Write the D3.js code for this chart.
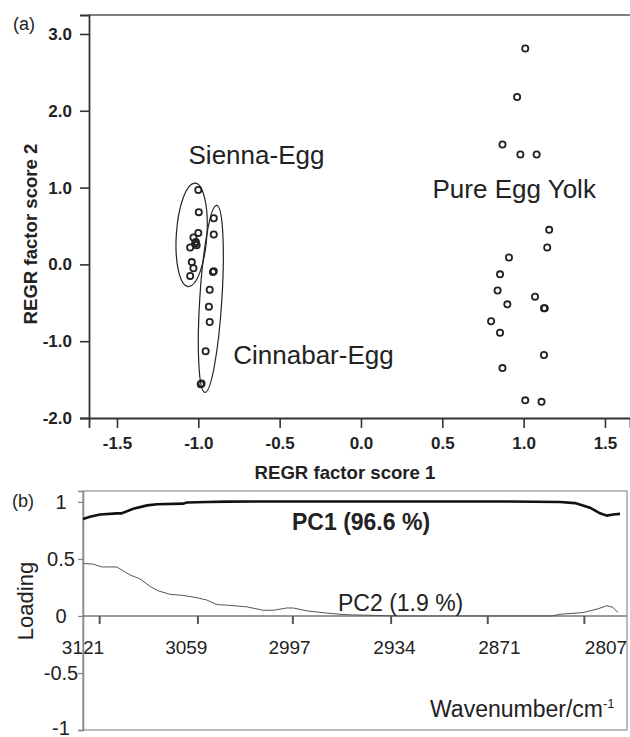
<!DOCTYPE html>
<html>
<head>
<meta charset="utf-8">
<script src="https://cdn.jsdelivr.net/npm/d3@7"></script>
<style>
  body { margin: 0; background: #fff; }
  text { font-family: "Liberation Sans", Arial, sans-serif; fill: #222; }
</style>
</head>
<body>
<div id="vis"></div>
<script>
// (a) score plot data: [factor score 1, factor score 2]
var siennaPts = [[-1.0, 0.97], [-0.997, 0.68], [-1.0, 0.41], [-1.03, 0.35], [-1.015, 0.29],
  [-1.01, 0.25], [-1.05, 0.22], [-1.02, 0.27], [-1.04, 0.03], [-1.03, -0.05], [-1.05, -0.15]];
var cinnabarPts = [[-0.905, 0.60], [-0.905, 0.39], [-0.905, -0.09], [-0.91, -0.10], [-0.93, -0.33],
  [-0.935, -0.55], [-0.93, -0.75], [-0.955, -1.13], [-0.98, -1.55], [-0.985, -1.56]];
var yolkPts = [[1.01, 2.81], [0.96, 2.18], [0.87, 1.56], [0.98, 1.43], [1.08, 1.43],
  [1.157, 0.45], [1.145, 0.22], [0.91, 0.09], [0.855, -0.13], [0.84, -0.34], [0.90, -0.52],
  [1.07, -0.42], [1.13, -0.57], [1.125, -0.57], [0.80, -0.74], [0.855, -0.89],
  [1.125, -1.18], [0.87, -1.35], [1.01, -1.77], [1.11, -1.79]];
// ellipses: [cx, cy, rx, ry, tilt deg]
var groupEllipses = [[-1.041, 0.385, 0.094, 0.675, 3.8], [-0.923, -0.449, 0.068, 1.22, 3.6]];
var groupLabels = [["Sienna-Egg", -1.06, 1.31], ["Pure Egg Yolk", 0.44, 0.86], ["Cinnabar-Egg", -0.785, -1.3]];
var scoreXTicks = [-1.5, -1.0, -0.5, 0.0, 0.5, 1.0, 1.5];
var scoreYTicks = [-2.0, -1.0, 0.0, 1.0, 2.0, 3.0];

// (b) loadings: wavenumber, value
var pc1Wn =  [3121, 3116.8, 3110.8, 3100.6, 3098, 3090.8, 3082.5, 3076.5, 3061, 3058.6, 3046.6, 3034, 2990, 2930, 2870, 2834.6, 2825.6, 2816.6, 2810.6, 2806.4, 2802.8, 2798.6];
var pc1Val = [0.85, 0.87, 0.89, 0.90, 0.90, 0.94, 0.97, 0.98, 0.985, 0.995, 1.0, 1.003, 1.004, 1.004, 1.004, 1.0, 0.99, 0.95, 0.90, 0.88, 0.89, 0.895];
var pc2Wn =  [3121, 3114.8, 3109.8, 3100.8, 3092.8, 3086.8, 3080.8, 3075.8, 3068.8, 3060.8, 3052.7, 3046.7, 3040.7, 3034.7, 3022.7, 3012.7, 3006.7, 2998.7, 2994.7, 2986.7, 2974.7, 2966.7, 2960.7, 2930, 2870, 2839.4, 2834.6, 2820.8, 2812.4, 2806.4, 2802.8, 2799.8];
var pc2Val = [0.46, 0.455, 0.43, 0.43, 0.36, 0.325, 0.26, 0.22, 0.19, 0.18, 0.16, 0.14, 0.10, 0.095, 0.08, 0.05, 0.05, 0.07, 0.07, 0.045, 0.025, 0.015, 0.01, 0.0, 0.0, 0.0, 0.015, 0.03, 0.06, 0.09, 0.075, 0.03];
var wnLabels = [3121, 3059, 2997, 2934, 2871, 2807];
var wnTickMarks = [3111, 3052, 2995, 2936, 2878, 2820];
var loadYTicks = [-1, -0.5, 0, 0.5, 1];

var svg = d3.select('#vis').append('svg')
  .attr('width', 630).attr('height', 737)
  .style('background-color', '#fff');

// ---------- panel (a) ----------
var xScale = d3.scaleLinear().domain([-1.672, 1.654]).range([89, 630]),
    yScale = d3.scaleLinear().domain([-2, 3.247]).range([418, 15]);

svg.append('line').attr('x1', 89).attr('x2', 630).attr('y1', 15).attr('y2', 15)
  .attr('stroke', '#555').attr('stroke-width', 1.4);

var gx = svg.append('g').attr('transform', 'translate(0,418)')
  .call(d3.axisBottom(xScale).tickValues(scoreXTicks).tickSize(10).tickPadding(9)
    .tickFormat(function (d) { return d.toFixed(1); }));
var gy = svg.append('g').attr('transform', 'translate(89,0)')
  .call(d3.axisLeft(yScale).tickValues(scoreYTicks).tickSize(9).tickPadding(8)
    .tickFormat(function (d) { return d.toFixed(1); }));
[gx, gy].forEach(function (g) {
  g.select('.domain').attr('stroke', '#333').attr('stroke-width', 1.8);
  g.selectAll('.tick line').attr('stroke', '#333').attr('stroke-width', 1.6);
  g.selectAll('.tick text').style('font-size', '17px').style('font-weight', 'bold')
    .style('font-family', '"Liberation Sans", Arial, sans-serif').attr('fill', '#222');
});

svg.append('text').attr('x', 13).attr('y', 30).style('font-size', '18px').text('(a)');

svg.append('text').attr('x', 345).attr('y', 479).attr('text-anchor', 'middle')
  .style('font-size', '18.6px').style('font-weight', 'bold').text('REGR factor score 1');
svg.append('text').attr('text-anchor', 'middle')
  .attr('transform', 'translate(37,234)rotate(-90)')
  .style('font-size', '18.6px').style('font-weight', 'bold').text('REGR factor score 2');

svg.append('g').selectAll('ellipse').data(groupEllipses).enter().append('ellipse')
  .attr('cx', function (d) { return xScale(d[0]); })
  .attr('cy', function (d) { return yScale(d[1]); })
  .attr('rx', function (d) { return xScale(d[2]) - xScale(0); })
  .attr('ry', function (d) { return yScale(0) - yScale(d[3]); })
  .attr('transform', function (d) { return 'rotate(' + d[4] + ',' + xScale(d[0]) + ',' + yScale(d[1]) + ')'; })
  .attr('fill', 'none').attr('stroke', '#222').attr('stroke-width', 1.2);

svg.append('g').selectAll('circle').data(siennaPts.concat(cinnabarPts, yolkPts)).enter().append('circle')
  .attr('cx', function (d) { return xScale(d[0]); })
  .attr('cy', function (d) { return yScale(d[1]); })
  .attr('r', 3.1)
  .attr('fill', 'none').attr('stroke', '#222').attr('stroke-width', 1.8);

svg.append('g').selectAll('text').data(groupLabels).enter().append('text')
  .attr('x', function (d) { return xScale(d[1]); })
  .attr('y', function (d) { return yScale(d[2]); })
  .style('font-size', '26px')
  .text(function (d) { return d[0]; });

// ---------- panel (b) ----------
var wScale = d3.scaleLinear().domain([3121, 2794.4]).range([83, 627]),
    lScale = d3.scaleLinear().domain([-1, 1.096]).range([730, 491]);

svg.append('rect').attr('x', 83).attr('y', 491).attr('width', 544).attr('height', 239)
  .attr('fill', 'none').attr('stroke', '#999').attr('stroke-width', 1.3);

svg.append('text').attr('x', 12).attr('y', 507).style('font-size', '18px').text('(b)');

// wavenumber labels (evenly spaced) and tick marks on zero line
svg.append('g').selectAll('text').data(wnLabels).enter().append('text')
  .attr('x', function (d) { return wScale(d); })
  .attr('y', 654)
  .attr('text-anchor', 'middle')
  .style('font-size', '19px').attr('fill', '#333')
  .text(function (d) { return d; });

var gl = svg.append('g').attr('transform', 'translate(83,0)')
  .call(d3.axisLeft(lScale).tickValues(loadYTicks).tickSize(5).tickPadding(0)
    .tickFormat(function (d) { return String(d); }));
gl.select('.domain').attr('stroke', '#888').attr('stroke-width', 1.5);
gl.selectAll('.tick line').attr('stroke', '#888').attr('stroke-width', 1.3);
gl.selectAll('.tick text').attr('x', -22).attr('text-anchor', 'middle')
  .style('font-size', '20px').style('font-family', '"Liberation Sans", Arial, sans-serif')
  .attr('fill', '#333');
gl.selectAll('.tick text').filter(function (d) { return d === -1; }).attr('dy', '0.2em');

svg.append('line').attr('x1', wScale(3121)).attr('x2', 627)
  .attr('y1', lScale(0)).attr('y2', lScale(0))
  .attr('stroke', '#777').attr('stroke-width', 1.6);

svg.append('g').selectAll('line').data(wnTickMarks).enter().append('line')
  .attr('x1', function (d) { return wScale(d); })
  .attr('x2', function (d) { return wScale(d); })
  .attr('y1', lScale(0)).attr('y2', lScale(0) + 8)
  .attr('stroke', '#555').attr('stroke-width', 2);

var line = d3.line()
  .x(function (d) { return wScale(d[0]); })
  .y(function (d) { return lScale(d[1]); });

svg.append('path').datum(d3.zip(pc2Wn, pc2Val)).attr('d', line)
  .attr('fill', 'none').attr('stroke', '#555').attr('stroke-width', 1);
svg.append('path').datum(d3.zip(pc1Wn, pc1Val)).attr('d', line)
  .attr('fill', 'none').attr('stroke', '#111').attr('stroke-width', 2.6);

svg.append('text').attr('x', 292).attr('y', 530)
  .style('font-size', '23px').style('font-weight', 'bold').text('PC1 (96.6 %)');
svg.append('text').attr('x', 338).attr('y', 611)
  .style('font-size', '23px').text('PC2 (1.9 %)');

svg.append('text').attr('text-anchor', 'middle')
  .attr('transform', 'translate(33,601)rotate(-90)')
  .style('font-size', '22px').text('Loading');

var wt = svg.append('text').attr('x', 430).attr('y', 717).style('font-size', '23px');
wt.append('tspan').text('Wavenumber/cm');
wt.append('tspan').attr('dy', -9).style('font-size', '13px').text('-1');
</script>
</body>
</html>
